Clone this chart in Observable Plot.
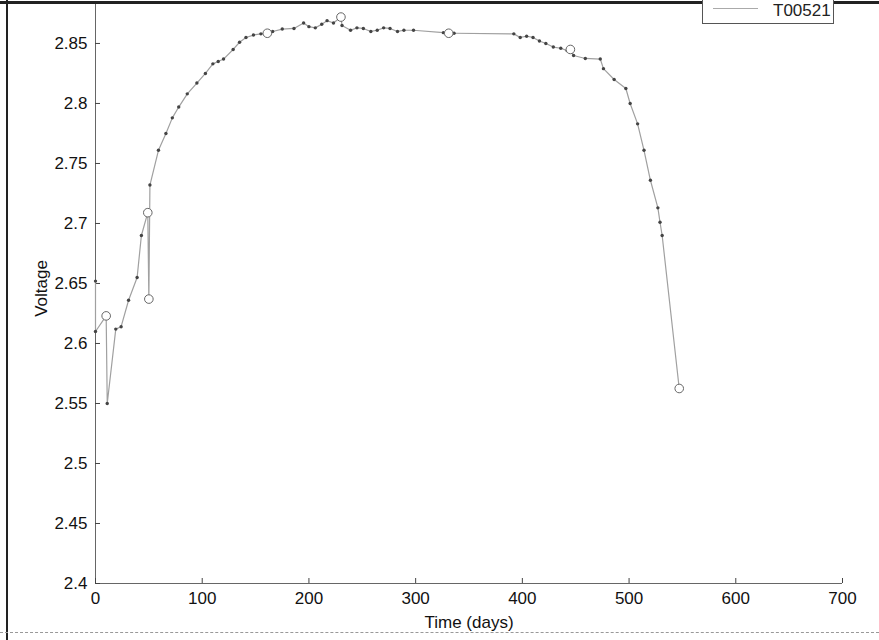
<!DOCTYPE html>
<html>
<head>
<meta charset="utf-8">
<script src="https://cdn.jsdelivr.net/npm/d3@7"></script>
<script src="https://cdn.jsdelivr.net/npm/@observablehq/plot@0.6"></script>
<style>
  html, body { margin: 0; padding: 0; background: #fff; }
  #wrap { position: relative; width: 879px; height: 640px; overflow: hidden; font-family: "Liberation Sans", Arial, sans-serif; }
  #edgeTop { position: absolute; left: 0; top: 1px; width: 879px; height: 3px; background: #222; }
  #edgeLeft { position: absolute; left: 6px; top: 0; width: 2px; height: 640px; background: #222; }
  #edgeBottom { position: absolute; left: 0; top: 632px; width: 879px; height: 1px; border-top: 1px dashed #999; }
  #legend { position: absolute; left: 702px; top: -8px; width: 132px; height: 32px; border: 1px solid #555; background: #fff; box-sizing: border-box; }
  #legend .sample { position: absolute; left: 10px; top: 15px; width: 45px; height: 0; border-top: 1px solid #aaa; }
  #legend .txt { position: absolute; left: 70px; top: 9px; font-size: 17px; color: #222; line-height: 17px; }
</style>
</head>
<body>
<div id="wrap"></div>
<script>
// ---- data ----
const seriesName = "T00521";
const days  = [0, 0, 10, 11, 19, 24, 31, 39, 43, 49, 50, 51, 59, 66, 72, 78, 86, 95, 103, 110, 115, 120, 129, 135, 141, 148, 155, 161, 166, 175, 186, 195, 200, 206, 212, 217, 223, 230, 231, 239, 245, 251, 258, 264, 270, 276, 283, 289, 298, 326, 331, 336, 392, 398, 404, 410, 416, 422, 429, 436, 442, 445, 448, 459, 473, 476, 486, 497, 501, 508, 514, 520, 527, 529, 531, 547];
const volts = [2.652, 2.61, 2.623, 2.55, 2.612, 2.614, 2.636, 2.655, 2.69, 2.709, 2.637, 2.732, 2.761, 2.775, 2.788, 2.797, 2.808, 2.817, 2.825, 2.833, 2.835, 2.837, 2.845, 2.851, 2.855, 2.857, 2.858, 2.8585, 2.86, 2.862, 2.8625, 2.867, 2.864, 2.863, 2.866, 2.869, 2.867, 2.872, 2.865, 2.861, 2.863, 2.8625, 2.86, 2.861, 2.863, 2.8625, 2.86, 2.861, 2.861, 2.859, 2.8585, 2.8585, 2.858, 2.855, 2.856, 2.855, 2.852, 2.85, 2.847, 2.846, 2.844, 2.845, 2.84, 2.8375, 2.837, 2.829, 2.82, 2.8125, 2.8, 2.783, 2.761, 2.736, 2.713, 2.701, 2.69, 2.5625];
const circleDays  = [10, 49, 50, 161, 230, 331, 445, 547];
const circleVolts = [2.623, 2.709, 2.637, 2.8585, 2.872, 2.8585, 2.845, 2.5625];
const xTicks = [0, 100, 200, 300, 400, 500, 600, 700];
const yTicks = [2.4, 2.45, 2.5, 2.55, 2.6, 2.65, 2.7, 2.75, 2.8, 2.85];
const xLabel = "Time (days)";
const yLabel = "Voltage";

const line = days.map((d, i) => ({day: d, v: volts[i]}));
const circles = circleDays.map((d, i) => ({day: d, v: circleVolts[i]}));
const circleKey = new Set(circles.map(c => c.day + ":" + c.v));
const dots = line.filter(p => !circleKey.has(p.day + ":" + p.v));

const xDom = [0, 700], yDom = [2.4, 2.8833];
// inward tick length, as a fraction of each domain (≈5px)
const xTickLen = (yDom[1] - yDom[0]) * 5 / 580;
const yTickLen = (xDom[1] - xDom[0]) * 5 / 747;

const chart = Plot.plot({
  width: 879,
  height: 640,
  marginLeft: 95,
  marginRight: 37,
  marginTop: 3,
  marginBottom: 57,
  style: {fontFamily: "Liberation Sans, Arial, sans-serif", fontSize: "17px", color: "#111", background: "transparent"},
  x: {domain: xDom},
  y: {domain: yDom},
  marks: [
    Plot.ruleX([xDom[0]], {stroke: "#666"}),
    Plot.ruleY([yDom[0]], {stroke: "#666"}),
    Plot.axisX(xTicks, {tickSize: 0, tickPadding: 8, label: null, fontSize: 17}),
    Plot.axisY(yTicks, {tickSize: 0, tickPadding: 8, label: null, fontSize: 17, tickFormat: d => String(d)}),
    Plot.ruleX(xTicks, {x: d => d, y1: yDom[0], y2: yDom[0] + xTickLen, stroke: "#444"}),
    Plot.ruleY(yTicks, {y: d => d, x1: xDom[0], x2: xDom[0] + yTickLen, stroke: "#444"}),
    Plot.line(line, {x: "day", y: "v", stroke: "#a0a0a0", strokeWidth: 1.2}),
    Plot.dot(dots, {x: "day", y: "v", r: 1.7, fill: "#444", stroke: null}),
    Plot.dot(circles, {x: "day", y: "v", r: 4.3, stroke: "#666", fill: "white", strokeWidth: 1}),
    Plot.text([xLabel], {frameAnchor: "bottom", dy: 44, fontSize: 17, fill: "#111"}),
    Plot.text([yLabel], {frameAnchor: "left", rotate: -90, textAnchor: "middle", dx: -54, dy: -5, fontSize: 17, fill: "#111"})
  ]
});

const wrap = document.getElementById("wrap");
wrap.appendChild(chart);
["edgeTop", "edgeLeft", "edgeBottom"].forEach(id => {
  const d = document.createElement("div"); d.id = id; wrap.appendChild(d);
});
const lg = document.createElement("div");
lg.id = "legend";
lg.innerHTML = '<div class="sample"></div><div class="txt"></div>';
lg.querySelector(".txt").textContent = seriesName;
wrap.appendChild(lg);
chart.style.position = "absolute";
chart.style.left = "0px";
chart.style.top = "0px";
</script>
</body>
</html>
